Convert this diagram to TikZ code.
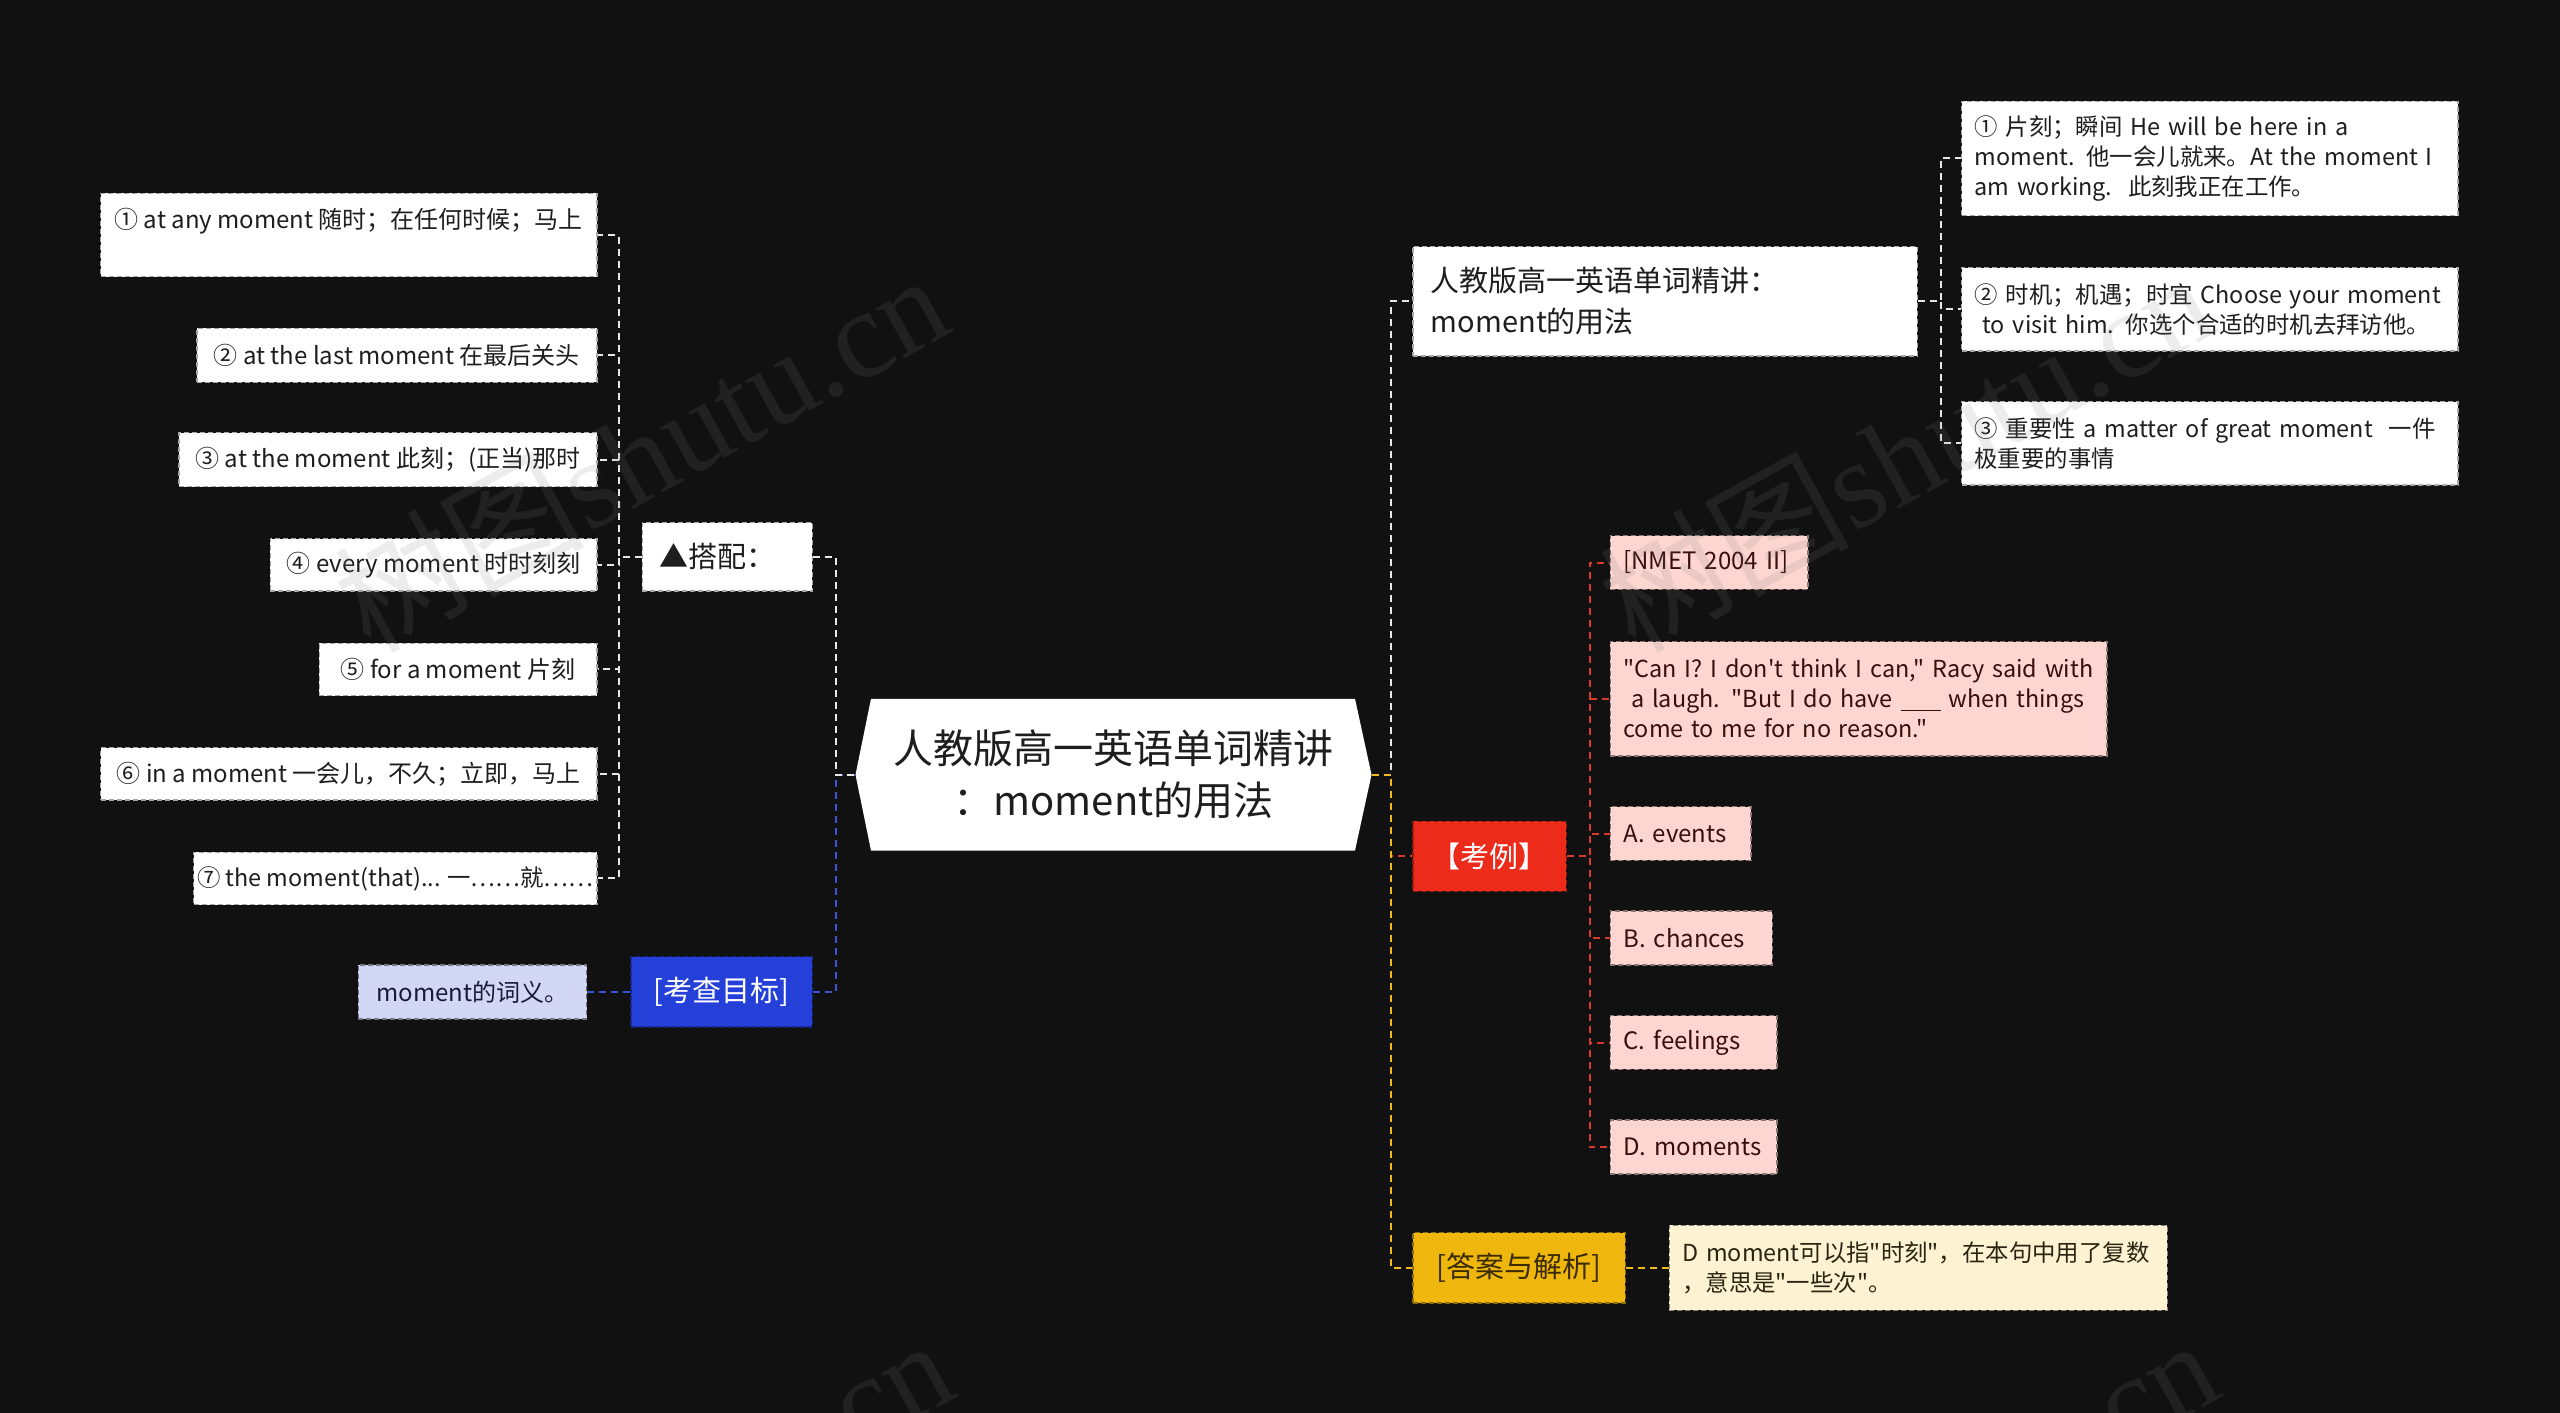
\documentclass[tikz,border=0pt]{standalone}
\usepackage{fontspec}
\setmainfont{Noto Sans CJK SC}[Ligatures=TeXOff]
\newfontfamily\wmlatin{Liberation Serif}
\newcommand\myfsS{\fontsize{24}{30}\selectfont}
\newcommand\myfsR{\fontsize{23.4}{30}\selectfont}
\newcommand\myfsM{\fontsize{29}{41}\selectfont}
\newcommand\myfsL{\fontsize{40}{52}\selectfont}
\definecolor{bgc}{HTML}{111111}
\definecolor{wtext}{HTML}{1E1E1E}
\definecolor{blueF}{HTML}{2440D8}
\definecolor{blueL}{HTML}{D3D7F6}
\definecolor{blueT}{HTML}{1A1A3A}
\definecolor{blueLine}{HTML}{3B52D9}
\definecolor{redF}{HTML}{EC2B1B}
\definecolor{pinkF}{HTML}{FDD6D1}
\definecolor{pinkT}{HTML}{3A0E0E}
\definecolor{redLine}{HTML}{D93A2B}
\definecolor{yelF}{HTML}{EFB60E}
\definecolor{yelT}{HTML}{3A2C00}
\definecolor{creamF}{HTML}{FDF3D3}
\definecolor{creamT}{HTML}{2B2410}
\definecolor{yelLine}{HTML}{F0BA1E}
\definecolor{wLine}{HTML}{E8E8E8}
\tikzset{
  bx/.style={rectangle, inner xsep=0pt, inner ysep=0pt, line width=1.3pt, dash pattern=on 5pt off 3pt},
  wbox/.style={bx, fill=white, draw=gray!70, text=wtext},
  pbox/.style={bx, fill=pinkF, draw=pinkF!55!black, text=pinkT},
  cbox/.style={bx, fill=creamF, draw=creamF!55!black, text=creamT},
  lbox/.style={bx, fill=blueL, draw=blueL!55!black, text=blueT},
  bbox/.style={bx, fill=blueF, draw=blueF!60!black, text=white},
  rbox/.style={bx, fill=redF, draw=redF!60!black, text=white},
  ybox/.style={bx, fill=yelF, draw=yelF!60!black, text=yelT},
  conn/.style={line width=2pt, dash pattern=on 7pt off 5pt},
  wline/.style={conn, draw=wLine},
  bline/.style={conn, draw=blueLine},
  rline/.style={conn, draw=redLine},
  yline/.style={conn, draw=yelLine},
  wmark/.style={text=gray, text opacity=0.15, anchor=base west, rotate=29, inner sep=0pt, font=\fontsize{125}{125}\selectfont}
}
\begin{document}
\begin{tikzpicture}[x=1pt,y=-1pt]
\useasboundingbox (0,0) rectangle (2560,1413);
\fill[bgc] (0,0) rectangle (2560,1413);

% central node shape
\fill[white] (855.5,774.7) -- (871,698.8) -- (1355,698.8) -- (1371.5,774.7) -- (1355,850.6) -- (871,850.6) -- cycle;
\node[text=wtext, align=center, inner sep=0pt, font=\myfsL] (center) at (1113.5,774.7) {人教版高一英语单词精讲\\：moment的用法};
\coordinate (cL) at (855.5,774.7);
\coordinate (cR) at (1371.5,774.7);

% left nodes
\node[wbox, font=\myfsS, anchor=north east, minimum width=496.4pt, text height=35.3pt, text depth=47.9pt] (l1) at (597.6,192.7) {① at any moment 随时；在任何时候；马上};
\node[wbox, font=\myfsS, anchor=east, minimum width=400pt, minimum height=53.9pt] (l2) at (597.6,355.2) {② at the last moment 在最后关头};
\node[wbox, font=\myfsS, anchor=east, minimum width=418pt, minimum height=53.8pt] (l3) at (597.6,459.6) {③ at the moment 此刻；(正当)那时};
\node[wbox, font=\myfsS, anchor=east, minimum width=326.6pt, minimum height=52.2pt] (l4) at (597.6,564.9) {④ every moment 时时刻刻};
\node[wbox, font=\myfsS, anchor=east, minimum width=277.6pt, minimum height=52.2pt] (l5) at (597.6,669.4) {⑤ for a moment 片刻};
\node[wbox, font=\myfsS, anchor=east, minimum width=496.4pt, minimum height=52.2pt] (l6) at (597.6,773.9) {⑥ in a moment 一会儿，不久；立即，马上};
\node[wbox, font=\myfsR, anchor=east, minimum width=403.3pt, minimum height=52.2pt] (l7) at (597.6,878.4) {⑦ the moment(that)... 一……就……};

\node[wbox, font=\myfsM, anchor=west, minimum width=169.9pt, minimum height=68.6pt, inner xsep=17pt, text width=135.9pt, align=left] (dapei) at (641.6,556.8) {▲搭配：};
\node[bbox, font=\myfsM, anchor=west, minimum width=181.3pt, minimum height=70.2pt] (mubiao) at (630.2,991.9) {[考查目标]};
\node[lbox, font=\myfsS, anchor=west, minimum width=228.5pt, minimum height=53.9pt] (ciyi) at (357.6,991.9) {moment的词义。};

% right nodes
\node[wbox, font=\myfsM, anchor=west, minimum width=504.5pt, minimum height=109.4pt, inner xsep=18pt, text width=468.5pt, align=left] (title) at (1412.3,301.2) {\mbox{人教版高一英语单词精讲：}\\\mbox{moment的用法}};

\node[wbox, font=\myfsR, anchor=west, minimum width=496.3pt, minimum height=114.3pt, inner xsep=13pt, text width=470.3pt, align=left] (r1) at (1960.9,158.4) {\mbox{① 片刻；瞬间 He will be here in a}\\\mbox{moment. 他一会儿就来。At the moment I}\\\mbox{am working.\ \ 此刻我正在工作。}};
\node[wbox, font=\myfsR, anchor=west, minimum width=496.3pt, minimum height=83.2pt, inner xsep=13pt, text width=470.3pt, align=left] (r2) at (1960.9,309.4) {\mbox{② 时机；机遇；时宜 Choose your moment}\\\mbox{\ to visit him. 你选个合适的时机去拜访他。}};
\node[wbox, font=\myfsR, anchor=west, minimum width=496.3pt, minimum height=83.3pt, inner xsep=13pt, text width=470.3pt, align=left] (r3) at (1960.9,443.3) {\mbox{③ 重要性 a matter of great moment\ \ 一件}\\\mbox{极重要的事情}};

\node[rbox, font=\myfsM, anchor=west, minimum width=153.5pt, minimum height=70.2pt] (kaoli) at (1412.3,856.3) {【考例】};
\node[pbox, font=\myfsS, anchor=west, minimum width=197.6pt, minimum height=53.9pt, inner xsep=13pt, text width=171.6pt, align=left] (e1) at (1609.8,562.5) {[NMET 2004 II]};
\node[pbox, font=\myfsR, anchor=west, minimum width=496.4pt, minimum height=114.2pt, inner xsep=13pt, text width=470.4pt, align=left] (e2) at (1609.8,698.8) {\mbox{"Can I? I don't think I can," Racy said with}\\\mbox{\ a laugh. "But I do have \rule[-3pt]{40pt}{1.2pt} when things}\\\mbox{come to me for no reason."}};
\node[pbox, font=\myfsS, anchor=west, minimum width=140.5pt, minimum height=53.8pt, inner xsep=13pt, text width=114.5pt, align=left] (e3) at (1609.8,833.5) {A. events};
\node[pbox, font=\myfsS, anchor=west, minimum width=161.7pt, minimum height=53.9pt, inner xsep=13pt, text width=135.7pt, align=left] (e4) at (1609.8,938) {B. chances};
\node[pbox, font=\myfsS, anchor=west, minimum width=166.6pt, minimum height=53.9pt, inner xsep=13pt, text width=140.6pt, align=left] (e5) at (1609.8,1042.5) {C. feelings};
\node[pbox, font=\myfsS, anchor=west, minimum width=166.6pt, minimum height=53.9pt, inner xsep=13pt, text width=140.6pt, align=left] (e6) at (1609.8,1147) {D. moments};

\node[ybox, font=\myfsM, anchor=west, minimum width=212.2pt, minimum height=70.2pt] (daan) at (1412.3,1267.8) {[答案与解析]};
\node[cbox, font=\myfsR, anchor=west, minimum width=498pt, minimum height=84.9pt, inner xsep=13pt, text width=472pt, align=left] (jiexi) at (1668.6,1267.8) {\mbox{D moment可以指"时刻"，在本句中用了复数}\\\mbox{，意思是"一些次"。}};

% connectors left
\foreach \k in {1,...,7} {\draw[wline] (dapei.west) -- ++(-22.8,0) |- (l\k.east);}
\draw[bline] (mubiao.east) -- ++(22.8,0) |- (cL);
\draw[wline] (dapei.east) -- ++(22.8,0) |- (cL);
\draw[bline] (ciyi.east) -- (mubiao.west);

% connectors right
\draw[wline] (cR) -- ++(19.6,0) |- (title.west);
\draw[rline] (cR) -- ++(19.6,0) |- (kaoli.west);
\draw[yline] (cR) -- ++(19.6,0) |- (daan.west);
\foreach \k in {1,2,3} {\draw[wline] (title.east) -- ++(22.8,0) |- (r\k.west);}
\foreach \k in {1,...,6} {\draw[rline] (kaoli.east) -- ++(22.8,0) |- (e\k.west);}
\draw[yline] (daan.east) -- (jiexi.west);

% watermarks
\begin{scope}
\clip (0,0) rectangle (2560,1413);
\node[wmark] (wm1) at (370,655) {树图{\wmlatin shutu.cn}};
\node[wmark] (wm2) at (1635,655) {树图{\wmlatin shutu.cn}};
\node[wmark] (wm3) at (375,1720) {树图{\wmlatin shutu.cn}};
\node[wmark] (wm4) at (1640,1720) {树图{\wmlatin shutu.cn}};
\end{scope}
\end{tikzpicture}
\end{document}
